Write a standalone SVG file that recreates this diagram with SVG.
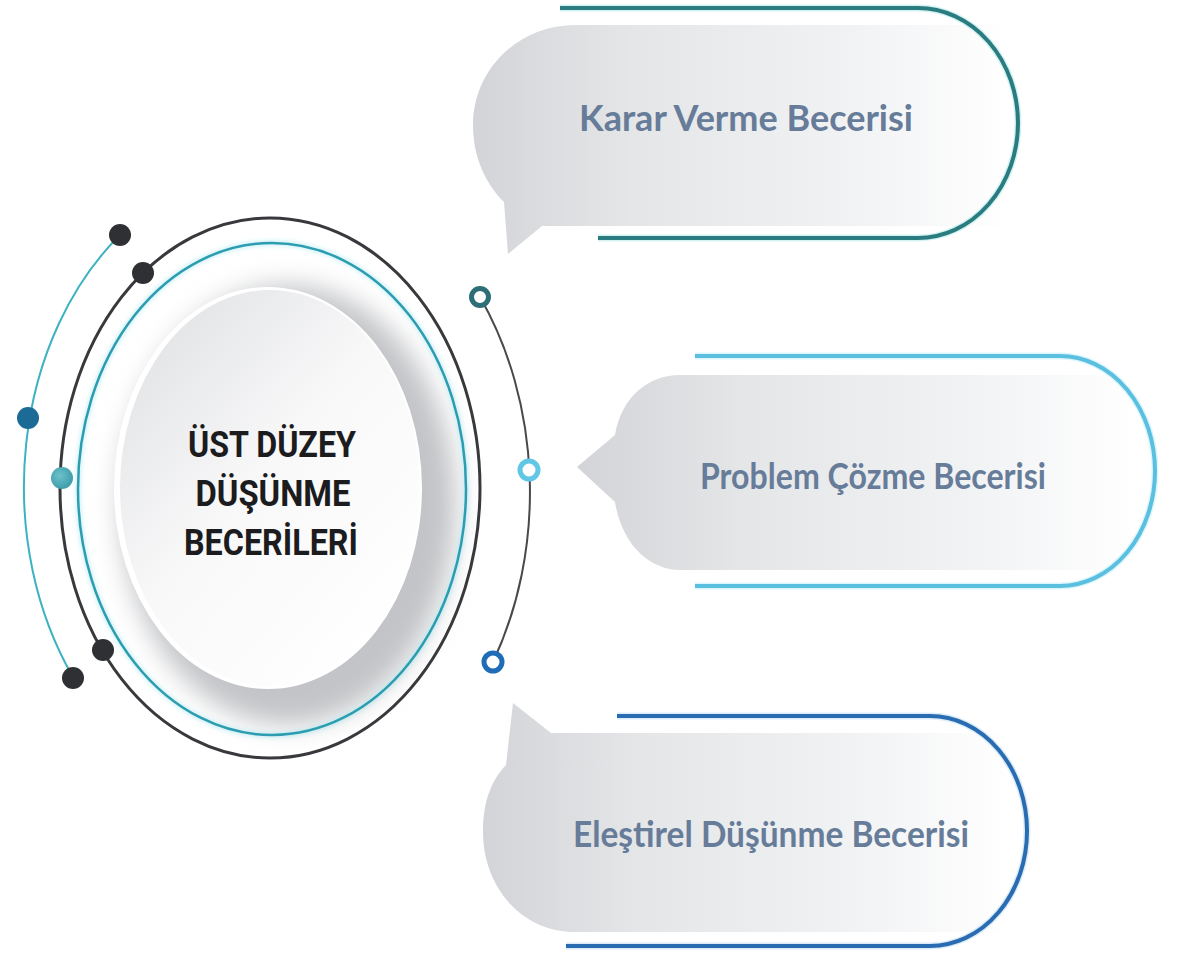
<svg xmlns="http://www.w3.org/2000/svg" width="1178" height="953" viewBox="0 0 1178 953">
<defs>
<style>
.dark-dot{fill:#2f3034}
.ring-line{fill:none}
.skill{font-family:Lato,"Liberation Sans",sans-serif;font-weight:700;font-size:37px;fill:#667c99;text-anchor:middle}
.title{font-family:Roboto,"Liberation Sans",sans-serif;font-weight:700;font-size:37px;fill:#1c1c1e;text-anchor:middle}
.hollow{fill:#ffffff;stroke-width:5}
</style>
<linearGradient id="bubbleFill" x1="0" y1="0" x2="1" y2="0">
<stop offset="0" stop-color="#d3d4d7"/>
<stop offset="0.3" stop-color="#e5e6e8"/>
<stop offset="0.7" stop-color="#f1f2f4"/>
<stop offset="1" stop-color="#ffffff"/>
</linearGradient>
<linearGradient id="discFill" x1="0.15" y1="0.1" x2="0.85" y2="0.9">
<stop offset="0" stop-color="#e4e5e7"/>
<stop offset="0.45" stop-color="#f8f8f9"/>
<stop offset="1" stop-color="#ffffff"/>
</linearGradient>
<radialGradient id="tealDot" cx="0.4" cy="0.4" r="0.6">
<stop offset="0" stop-color="#6cc2cc"/>
<stop offset="1" stop-color="#3e9daa"/>
</radialGradient>
<filter id="blur" x="-20%" y="-20%" width="140%" height="140%">
<feGaussianBlur stdDeviation="13"/>
</filter>
<filter id="glow" x="-5%" y="-5%" width="110%" height="110%">
<feGaussianBlur stdDeviation="2"/>
</filter>
</defs>
<rect width="1178" height="953" fill="#ffffff"/>

<g id="connectors">
<path class="ring-line" d="M120,235 A247,318 0 0 0 73,677" stroke="#3db2c2" stroke-width="2"/>
<path class="ring-line" d="M480,297 A262,332 0 0 1 493,662" stroke="#48494c" stroke-width="2"/>
</g>

<g id="center-node">
<ellipse cx="288" cy="505" rx="168" ry="220" fill="#c3c4c7" filter="url(#blur)"/>
<ellipse cx="270" cy="488" rx="210" ry="270" fill="none" stroke="#38393c" stroke-width="3"/>
<ellipse cx="272" cy="489" rx="194" ry="246" fill="none" stroke="#a8e6f0" stroke-width="5" opacity="0.6" filter="url(#glow)"/>
<ellipse cx="272" cy="489" rx="194" ry="246" fill="none" stroke="#2c9db0" stroke-width="2.5"/>
<ellipse cx="268" cy="488" rx="154" ry="201" fill="#ffffff"/>
<ellipse cx="270" cy="488" rx="150" ry="198" fill="url(#discFill)"/>
<text class="title" x="272" y="457" textLength="168" lengthAdjust="spacingAndGlyphs">ÜST DÜZEY</text>
<text class="title" x="273" y="506" textLength="155" lengthAdjust="spacingAndGlyphs">DÜŞÜNME</text>
<text class="title" x="271" y="555" textLength="174" lengthAdjust="spacingAndGlyphs">BECERİLERİ</text>
</g>

<g id="dots">
<circle class="dark-dot" cx="120" cy="235" r="11"/>
<circle class="dark-dot" cx="143" cy="273" r="11"/>
<circle cx="28" cy="418" r="11" fill="#1b6b96"/>
<circle cx="62" cy="478" r="11" fill="url(#tealDot)"/>
<circle class="dark-dot" cx="103" cy="650" r="11"/>
<circle class="dark-dot" cx="73" cy="678" r="11"/>
<circle class="hollow" cx="480" cy="297" r="8.5" stroke="#2d6f77"/>
<circle class="hollow" cx="529" cy="470" r="9" stroke="#62c7e5"/>
<circle class="hollow" cx="493" cy="662" r="9" stroke="#1f6db6"/>
</g>

<g id="node-karar">
<path d="M575,25 H1010 V226 H542 L508,254 L504,202 C484,182 473,155 473,125 C473,70 518,25 575,25 Z" fill="url(#bubbleFill)"/>
<path d="M560,8 H918 A100,115 0 0 1 918,238 H598" fill="none" stroke="#b8ecec" stroke-width="7" opacity="0.6"/>
<path d="M560,8 H918 A100,115 0 0 1 918,238 H598" fill="none" stroke="#2a7c81" stroke-width="4"/>
<text class="skill" x="746" y="131" textLength="334" lengthAdjust="spacingAndGlyphs">Karar Verme Becerisi</text>
</g>

<g id="node-problem">
<path d="M680,375 H1135 V570 H680 C650,570 622,545 615,502 L577,467 L615,435 C622,395 650,375 680,375 Z" fill="url(#bubbleFill)"/>
<path d="M695,356 H1060 A95,115 0 0 1 1060,586 H695" fill="none" stroke="#c4f0fb" stroke-width="7" opacity="0.6"/>
<path d="M695,356 H1060 A95,115 0 0 1 1060,586 H695" fill="none" stroke="#5bbfe0" stroke-width="4"/>
<text class="skill" x="873" y="489" textLength="346" lengthAdjust="spacingAndGlyphs">Problem Çözme Becerisi</text>
</g>

<g id="node-elestirel">
<path d="M513,703 L551,733 H1010 V932 H575 C520,932 483,885 483,832 C483,800 492,780 506,765 Z" fill="url(#bubbleFill)"/>
<path d="M617,716 H930 A97,115 0 0 1 930,946 H566" fill="none" stroke="#c4e0f5" stroke-width="7" opacity="0.6"/>
<path d="M617,716 H930 A97,115 0 0 1 930,946 H566" fill="none" stroke="#2a6cb2" stroke-width="4"/>
<text class="skill" x="771" y="847" textLength="396" lengthAdjust="spacingAndGlyphs">Eleştirel Düşünme Becerisi</text>
</g>
</svg>
